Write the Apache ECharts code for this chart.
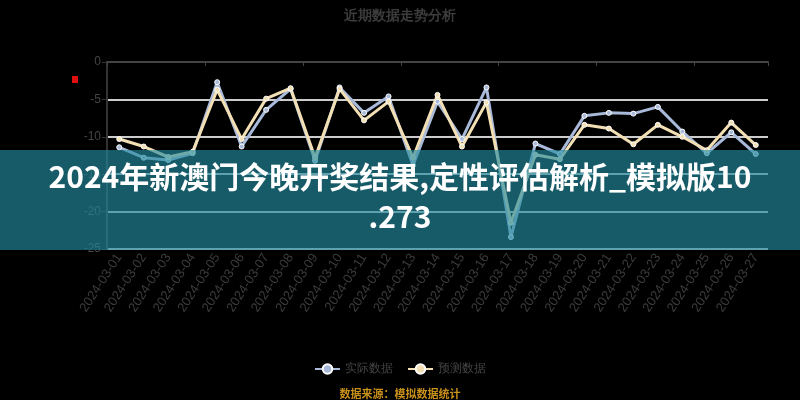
<!DOCTYPE html>
<html><head><meta charset="utf-8">
<style>html,body{margin:0;padding:0;background:#000;}#c{width:800px;height:400px;}</style>
<script src="https://cdn.jsdelivr.net/npm/echarts@6/dist/echarts.min.js"></script>
</head><body><div id="c"></div>
<script>
const categories = ['2024-03-01','2024-03-02','2024-03-03','2024-03-04','2024-03-05','2024-03-06','2024-03-07','2024-03-08','2024-03-09','2024-03-10','2024-03-11','2024-03-12','2024-03-13','2024-03-14','2024-03-15','2024-03-16','2024-03-17','2024-03-18','2024-03-19','2024-03-20','2024-03-21','2024-03-22','2024-03-23','2024-03-24','2024-03-25','2024-03-26','2024-03-27'];
const seriesA = [-11.4,-12.8,-13.1,-12.2,-2.7,-11.3,-6.4,-3.6,-13.2,-3.4,-6.8,-4.6,-13.8,-5.3,-10.3,-3.4,-23.4,-10.9,-12.3,-7.2,-6.8,-6.9,-6.0,-9.3,-12.2,-9.4,-12.3];
const seriesB = [-10.3,-11.3,-12.7,-12.0,-3.7,-10.3,-4.9,-3.5,-12.8,-3.6,-7.8,-5.3,-12.8,-4.4,-11.3,-5.4,-21.5,-12.4,-13.0,-8.4,-8.9,-11.0,-8.4,-10.0,-11.8,-8.1,-11.1];
const nameA = '实际数据';
const nameB = '预测数据';
const yTicks = {min:-25, max:0, interval:5};

const chart = echarts.init(document.getElementById('c'));
chart.setOption({
  backgroundColor:'#000',
  animation:false,
  title:{text:'近期数据走势分析', left:'center', top:4, textStyle:{color:'#3c3c3c', fontSize:14, fontWeight:'bold'}},
  legend:{bottom:20, itemWidth:25, itemHeight:12, itemGap:14, textStyle:{color:'#444', fontSize:12},
    data:[nameA,nameB]},
  grid:{left:107, right:32, top:62, bottom:151, containLabel:false},
  xAxis:[
    {type:'category', data:categories, position:'bottom', boundaryGap:true,
     axisLine:{show:false}, axisTick:{show:false},
     axisLabel:{color:'#3c3c3c', fontSize:13, rotate:57, margin:6, interval:0}},
    {type:'category', data:categories, position:'top', boundaryGap:true,
     axisLine:{show:true, lineStyle:{color:'#444', width:2}},
     axisTick:{show:true, inside:true, length:4, lineStyle:{color:'#444'}},
     axisLabel:{show:false}}
  ],
  yAxis:{type:'value', min:yTicks.min, max:yTicks.max, interval:yTicks.interval,
    axisLine:{show:true, lineStyle:{color:'#333', width:2}},
    axisTick:{show:true, length:5, lineStyle:{color:'#333'}},
    axisLabel:{color:'#444', fontSize:12, margin:6},
    splitLine:{lineStyle:{color:'#cccccc', width:2}}},
  series:[
    {name:nameA, type:'line', data:seriesA, symbol:'circle', symbolSize:5,
     lineStyle:{color:'#a9b9d9', width:3}, itemStyle:{color:'#a9b9d9', borderColor:'#fff', borderWidth:1}},
    {name:nameB, type:'line', data:seriesB, symbol:'circle', symbolSize:5,
     lineStyle:{color:'#f3dfb4', width:3}, itemStyle:{color:'#f3dfb4', borderColor:'#fff', borderWidth:1}}
  ],
  graphic:[
    {type:'rect', left:72, top:76, shape:{width:6, height:7}, style:{fill:'#e01010'}},
    {type:'text', left:'center', top:388, style:{text:'数据来源：模拟数据统计', fill:'#c8901a', font:'bold 11px "Noto Sans CJK SC"'}},
    {type:'rect', left:0, top:150, z:100, shape:{width:800, height:100}, style:{fill:'rgba(35,140,160,0.65)'}},
    {type:'text', left:'center', top:162, z:101, style:{text:'2024年新澳门今晚开奖结果,定性评估解析_模拟版10', fill:'#fff', font:'bold 30px "Noto Sans CJK SC"'}},
    {type:'text', left:'center', top:202, z:101, style:{text:'.273', fill:'#fff', font:'bold 30px "Noto Sans CJK SC"'}}
  ]
});
</script></body></html>
